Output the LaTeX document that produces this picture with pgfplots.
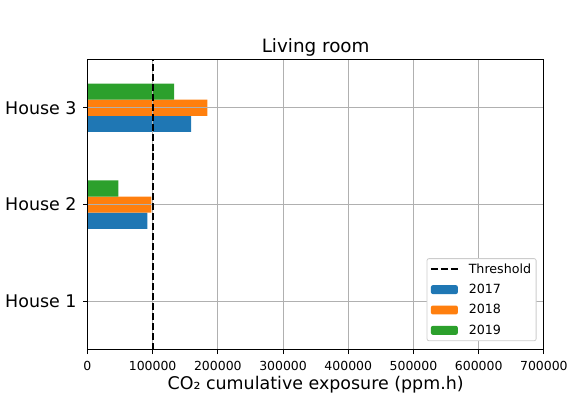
\documentclass[border=0pt]{standalone}
\usepackage{pgfplots}
\pgfplotsset{compat=1.18}
\usepackage{fontspec}
\setmainfont{DejaVu Sans}
\definecolor{tabblue}{HTML}{1F77B4}
\definecolor{taborange}{HTML}{FF7F0E}
\definecolor{tabgreen}{HTML}{2CA02C}
\definecolor{gridgray}{HTML}{B0B0B0}
\begin{document}
\begin{tikzpicture}
\begin{axis}[
  at={(0pt,0pt)}, anchor=south west,
  scale only axis, width=458pt, height=291.5pt,
  set layers=axis on top,
  xmin=0, xmax=700000, ymin=-0.5, ymax=2.5,
  xtick={0,100000,200000,300000,400000,500000,600000,700000},
  xticklabels={0,100000,200000,300000,400000,500000,600000,700000},
  scaled x ticks=false,
  ytick={0,1,2},
  yticklabels={House 1,House 2,House 3},
  tick align=outside, tick pos=lower,
  major tick length=4.4pt,
  every tick/.style={black, line width=1pt},
  axis line style={black, line width=1pt},
  grid=major,
  major grid style={gridgray, line width=1pt},
  xticklabel style={font=\fontsize{12.5}{15}\selectfont, yshift=-4pt},
  yticklabel style={font=\fontsize{17.5}{21}\selectfont, xshift=-3pt},
  title={Living room},
  title style={font=\fontsize{18.4}{22}\selectfont, at={(0.5,1)}, anchor=base, yshift=1pt},
  xlabel={CO₂ cumulative exposure (ppm.h)},
  xlabel style={font=\fontsize{17.5}{21}\selectfont, at={(0.5,0)}, anchor=base, yshift=-40pt},
  bar width=0.1667,
  legend cell align=left,
  legend style={at={(1,0)}, anchor=south east, xshift=-7.4pt, yshift=8.7pt,
    draw=black!20, rounded corners=2pt, line width=0.8pt,
    font=\fontsize{12.7}{15}\selectfont,
    inner xsep=3pt, inner ysep=3pt, row sep=5.5pt,
    /tikz/every odd column/.append style={column sep=8pt}},
]
\addlegendimage{legend image code/.code={\draw[black, line width=1.9pt, dash pattern=on 7pt off 3pt] (0pt,0pt) -- (27pt,0pt);}}
\addlegendentry{Threshold}
\addplot[xbar, fill=tabblue, draw=none, bar shift=-0.1667,
  legend image code/.code={\fill[tabblue] (0pt,-4.5pt) rectangle (27pt,4.5pt);}]
  coordinates {(92000,1) (159000,2)};
\addlegendentry{2017}
\addplot[xbar, fill=taborange, draw=none, bar shift=0,
  legend image code/.code={\fill[taborange] (0pt,-4.5pt) rectangle (27pt,4.5pt);}]
  coordinates {(98000,1) (184000,2)};
\addlegendentry{2018}
\addplot[xbar, fill=tabgreen, draw=none, bar shift=0.1667,
  legend image code/.code={\fill[tabgreen] (0pt,-4.5pt) rectangle (27pt,4.5pt);}]
  coordinates {(47300,1) (133000,2)};
\addlegendentry{2019}
\addplot[on layer=axis foreground, black, line width=1.9pt, dash pattern=on 7pt off 3pt, mark=none, forget plot]
  coordinates {(100000,-0.5) (100000,2.5)};
\end{axis}
\path (-87.7pt,-46pt) rectangle (483.3pt,351pt);
\end{tikzpicture}
\end{document}
